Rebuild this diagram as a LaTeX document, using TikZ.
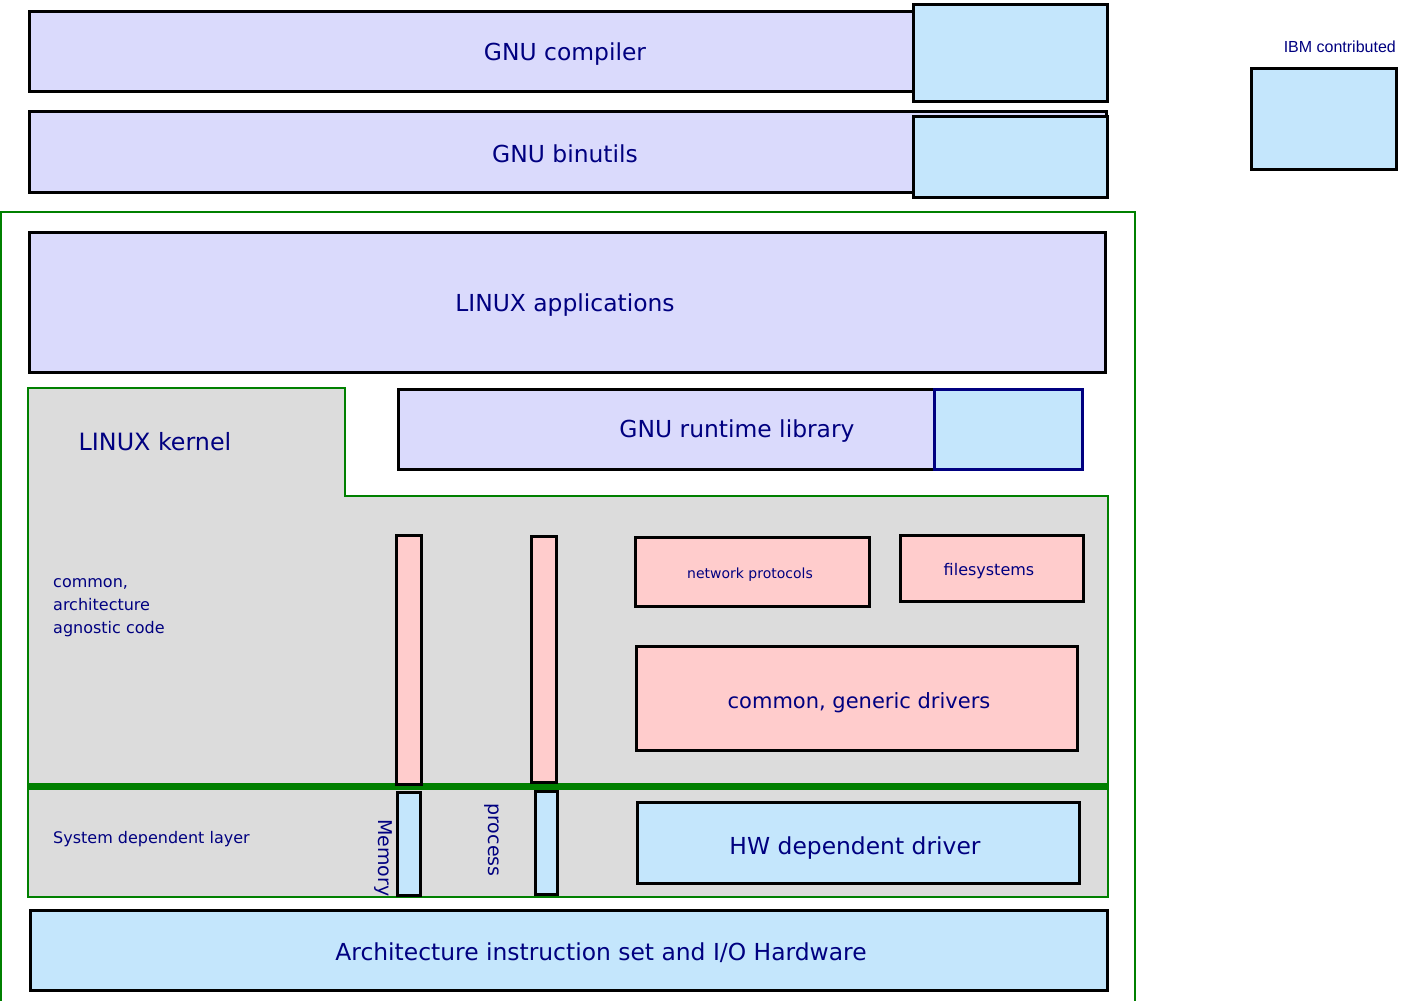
\documentclass[tikz,border=0pt]{standalone}
\usepackage{fontspec}
\setmainfont{DejaVu Sans}
\newfontfamily\arialf{Liberation Sans}
\definecolor{lav}{HTML}{DADAFC}
\definecolor{ibm}{HTML}{C4E6FC}
\definecolor{pinkf}{HTML}{FFCCCC}
\definecolor{grayf}{HTML}{DCDCDC}
\definecolor{txt}{HTML}{000080}
\definecolor{grn}{HTML}{008000}
\tikzset{
  box/.style={draw=black, line width=2.6pt, inner sep=0pt, anchor=north west},
  lavbox/.style={box, fill=lav},
  ibmbox/.style={box, fill=ibm},
  pinkbox/.style={box, fill=pinkf},
  lbl/.style={text=txt, inner sep=0pt},
  big/.style={lbl, font=\fontsize{23.4}{28}\selectfont},
}
\newcommand{\bx}[6]{\node[#1, minimum width=#5-#3, minimum height=#6-#4] (#2) at (#3,#4) {};}
\begin{document}
\begin{tikzpicture}[x=1pt,y=-1pt]
\useasboundingbox[fill=white] (0,0) rectangle (1403,1001);
% top boxes
\bx{lavbox}{gcc}{28}{10}{913}{90}
\node[big] (gcct) at (565,54) {GNU compiler};
\bx{ibmbox}{gccibm}{912}{3}{1106}{100}
\bx{lavbox}{bin}{28}{110}{1105}{191}
\node[big] (bint) at (565,154) {GNU binutils};
\bx{ibmbox}{binibm}{912}{115}{1106}{196}
% legend
\node[lbl, anchor=east, font=\arialf\fontsize{16}{18}\selectfont] (legt) at (1396,47) {IBM contributed};
\bx{ibmbox}{leg}{1250}{67}{1395}{168}
% outer green
\draw[grn, line width=2.2pt] (1,1003) -- (1,212) -- (1135,212) -- (1135,1003);
\coordinate (outer) at (1,212);
% applications
\bx{lavbox}{apps}{28}{231}{1104}{371}
\node[big] (appst) at (565,305) {LINUX applications};
% kernel region
\filldraw[fill=grayf, draw=grn, line width=2.8pt] (28,388) -- (345,388) -- (345,496) -- (1108,496) -- (1108,897) -- (28,897) -- cycle;
\node[lbl, font=\fontsize{23.8}{28}\selectfont] (kern) at (155,442) {LINUX kernel};
% runtime library
\bx{lavbox}{rt}{397}{388}{1081}{468}
\node[big] (rtt) at (737,431) {GNU runtime library};
\node[box, draw=txt, fill=ibm, minimum width=148, minimum height=80] (rtibm) at (933,388) {};
% left labels
\node[lbl, anchor=north west, align=left, font=\fontsize{16}{23}\selectfont] (agn) at (53,578) {common,\\architecture\\agnostic code};
\node[lbl, anchor=west, font=\fontsize{16}{19}\selectfont] (sdl) at (53,839) {System dependent layer};
% thick green separator
\draw[grn, line width=7pt] (28,786) -- (1108,786);
\coordinate (sep) at (28,786);
% memory / process bars
\bx{pinkbox}{memp}{395}{534}{420}{783}
\bx{ibmbox}{memb}{396}{791}{419}{894}
\bx{pinkbox}{procp}{530}{535}{555}{781}
\bx{ibmbox}{procb}{534}{790}{556}{893}
\node[lbl, rotate=-90, font=\fontsize{19}{22}\selectfont] (memt) at (383,858) {Memory};
\node[lbl, rotate=-90, font=\fontsize{19}{22}\selectfont] (proct) at (492,840) {process};
% pink boxes
\bx{pinkbox}{net}{634}{536}{868}{605}
\node[lbl, font=\fontsize{14}{17}\selectfont] (nett) at (750,575) {network protocols};
\bx{pinkbox}{fs}{899}{534}{1082}{600}
\node[lbl, font=\fontsize{16}{19}\selectfont] (fst) at (989,571) {filesystems};
\bx{pinkbox}{drv}{635}{645}{1076}{749}
\node[lbl, font=\fontsize{21}{25}\selectfont] (drvt) at (859,703) {common, generic drivers};
\bx{ibmbox}{hw}{636}{801}{1078}{882}
\node[big] (hwt) at (855,848) {HW dependent driver};
\bx{ibmbox}{arch}{29}{909}{1106}{989}
\node[big] (archt) at (601,953) {Architecture instruction set and I/O Hardware};
\end{tikzpicture}
\end{document}
